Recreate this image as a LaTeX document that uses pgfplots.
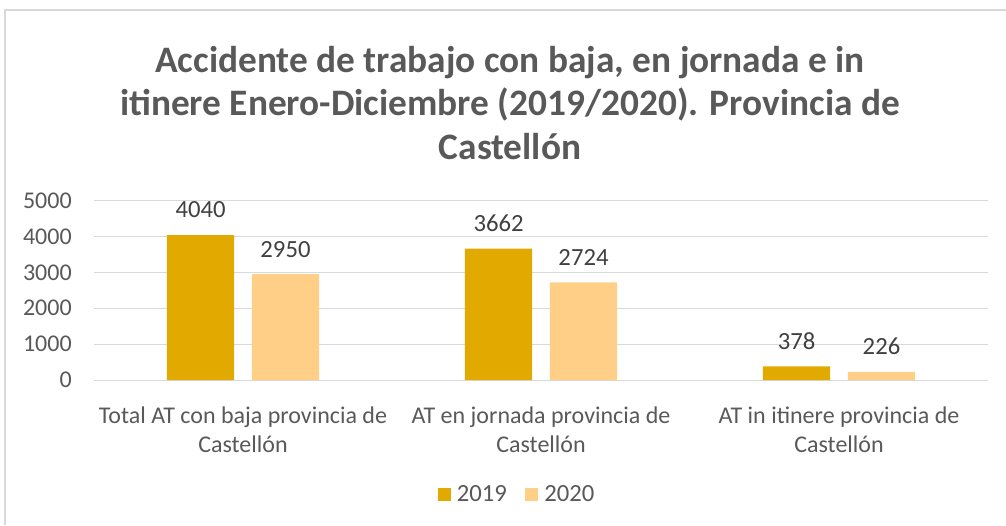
\documentclass[border=0pt]{standalone}
\usepackage{fontspec}
\setmainfont{Carlito}
\usepackage{pgfplots}
\pgfplotsset{compat=1.18}
\definecolor{c19}{HTML}{E2A900}
\definecolor{c20}{HTML}{FFCF87}
\definecolor{gridc}{HTML}{D9D9D9}
\definecolor{txt}{HTML}{595959}
\definecolor{vals}{HTML}{404040}
\begin{document}
\begin{tikzpicture}[x=0.75pt,y=0.75pt]
\useasboundingbox (0,0) rectangle (1006,525);
\draw[gridc, line width=1.2pt] (5,0) -- (5,515) -- (1006,515);
\node[align=center, font=\fontsize{28}{32.5}\selectfont\bfseries, text=txt] at (510,422)
  {Accidente de trabajo con baja, en jornada e in\\itinere Enero-Diciembre (2019/2020). Provincia de\\Castellón};
\begin{axis}[
  at={(70.5pt,108.75pt)}, anchor=south west,
  scale only axis, width=670.5pt, height=134.5pt,
  xmin=-0.5, xmax=2.5, ymin=0, ymax=5000,
  xtick={0,1,2},
  xticklabels={{Total AT con baja provincia de\\Castellón},{AT en jornada provincia de\\Castellón},{AT in itinere provincia de\\Castellón}},
  ytick={0,1000,2000,3000,4000,5000},
  ymajorgrids, grid style={gridc, line width=0.75pt},
  axis line style={draw=none}, tick style={draw=none},
  /pgf/number format/assume math mode=true,
  /pgf/number format/1000 sep={},
  /pgf/number format/fixed, /pgf/number format/precision=0,
  ticklabel style={font=\fontsize{18}{21.75}\selectfont, text=txt},
  yticklabel style={inner sep=0pt, xshift=-16.5pt},
  xticklabel style={align=center, inner sep=0pt, anchor=north, yshift=-16pt},
  ybar, bar width=0.225,
  nodes near coords,
  every node near coord/.append style={font=\fontsize{18.5}{21}\selectfont, text=vals, inner sep=0pt, anchor=south, yshift=12.5pt},
  legend style={at={(0.472,-0.636)}, anchor=center, draw=none, legend columns=2,
    font=\fontsize{18.5}{21}\selectfont, text=txt,
    /tikz/every even column/.append style={column sep=13.5pt},
    nodes={inner sep=0pt}},
  legend image code/.code={\fill[#1] (0pt,-4.9pt) rectangle (9.75pt,4.9pt); \path (14.5pt,0pt);},
]
\addplot[fill=c19, draw=none, bar shift=-0.1426] coordinates {(0,4040) (1,3662) (2,378)};
\addplot[fill=c20, draw=none, bar shift=0.1426] coordinates {(0,2950) (1,2724) (2,226)};
\legend{2019,2020}
\end{axis}
\end{tikzpicture}
\end{document}
